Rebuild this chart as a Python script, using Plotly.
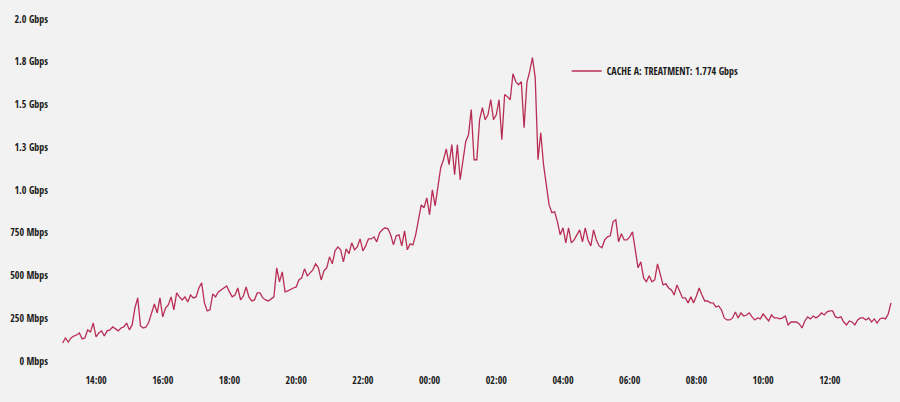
import pandas as pd
import plotly.graph_objects as go

# Throughput in Mbps, sampled every 5 minutes starting 13:00
values_mbps = [
    105, 135, 111, 135, 146, 152, 164, 129, 135, 182,
    170, 222, 141, 164, 176, 146, 176, 182, 199, 187,
    176, 193, 199, 222, 182, 211, 310, 369, 205, 193,
    199, 228, 281, 334, 281, 369, 258, 310, 328, 375,
    299, 398, 375, 357, 375, 345, 386, 369, 375, 427,
    457, 340, 293, 299, 392, 375, 404, 416, 427, 439,
    404, 375, 386, 427, 357, 380, 433, 375, 351, 357,
    398, 398, 369, 357, 351, 363, 375, 545, 463, 521,
    404, 410, 421, 427, 433, 474, 486, 539, 498, 515,
    533, 568, 545, 474, 527, 545, 609, 568, 644, 667,
    650, 580, 656, 627, 691, 650, 667, 714, 644, 673,
    714, 714, 726, 697, 749, 767, 779, 773, 738, 679,
    732, 738, 673, 761, 650, 685, 679, 738, 837, 913,
    896, 954, 855, 1001, 907, 1019, 1130, 1177, 1241, 1148,
    1265, 1089, 1265, 1060, 1177, 1282, 1323, 1470, 1177, 1177,
    1411, 1481, 1411, 1440, 1528, 1411, 1440, 1528, 1294, 1558,
    1546, 1528, 1680, 1634, 1616, 1634, 1364, 1628, 1692, 1774,
    1657, 1177, 1335, 1148, 1030, 913, 867, 872, 814, 738,
    779, 691, 779, 691, 708, 738, 767, 697, 779, 708,
    673, 767, 708, 673, 662, 708, 726, 732, 814, 826,
    697, 744, 708, 708, 726, 755, 638, 545, 580, 486,
    463, 498, 463, 474, 568, 504, 445, 451, 427, 416,
    386, 445, 410, 369, 369, 340, 375, 340, 380, 427,
    386, 351, 351, 340, 340, 316, 322, 299, 252, 240,
    240, 252, 287, 252, 281, 263, 269, 281, 258, 240,
    252, 246, 275, 252, 234, 269, 252, 252, 246, 252,
    263, 211, 228, 228, 228, 217, 193, 234, 258, 246,
    263, 252, 263, 281, 269, 287, 293, 293, 258, 252,
    258, 228, 211, 234, 228, 211, 240, 252, 252, 240,
    252, 228, 246, 222, 246, 252, 246, 275, 340,
]

series_name = "CACHE A: TREATMENT: 1.774 Gbps"
y_tick_vals = [0, 250, 500, 750, 1000, 1250, 1500, 1750, 2000]
y_tick_text = ["0 Mbps", "250 Mbps", "500 Mbps", "750 Mbps", "1.0 Gbps",
               "1.3 Gbps", "1.5 Gbps", "1.8 Gbps", "2.0 Gbps"]

times = pd.date_range("2023-01-01 13:00", periods=len(values_mbps), freq="5min")

FONT = "Open Sans Condensed, Roboto Condensed, Liberation Sans Narrow, sans-serif"
LINE = "#b82e56"

fig = go.Figure()
fig.add_trace(go.Scatter(
    x=times, y=values_mbps, mode="lines", name=series_name,
    line=dict(color=LINE, width=1.3),
    showlegend=True,
))

fig.update_layout(
    width=900, height=402,
    margin=dict(l=56, r=4, t=19, b=41),
    paper_bgcolor="#f2f2f2", plot_bgcolor="#f2f2f2",
    font=dict(family=FONT, size=10, color="#1a1a1a", weight="bold"),
    showlegend=True,
    legend=dict(x=0.608, y=0.848, xanchor="left", yanchor="middle",
                bgcolor="rgba(0,0,0,0)", font=dict(size=10, color="#1a1a1a")),
    xaxis=dict(
        type="date",
        range=["2023-01-01 12:48", "2023-01-02 13:59"],
        tick0="2023-01-01 14:00", dtick=7200000, tickformat="%H:%M",
        showgrid=False, zeroline=False, showline=False, ticks="",
        ticklabelstandoff=12,
    ),
    yaxis=dict(
        range=[0, 2000],
        tickvals=y_tick_vals, ticktext=y_tick_text,
        showgrid=False, zeroline=False, showline=False, ticks="",
        ticklabelstandoff=7,
    ),
)

fig.write_html("out.html", config={"displayModeBar": False},
               post_script="document.body.style.margin='0';")
